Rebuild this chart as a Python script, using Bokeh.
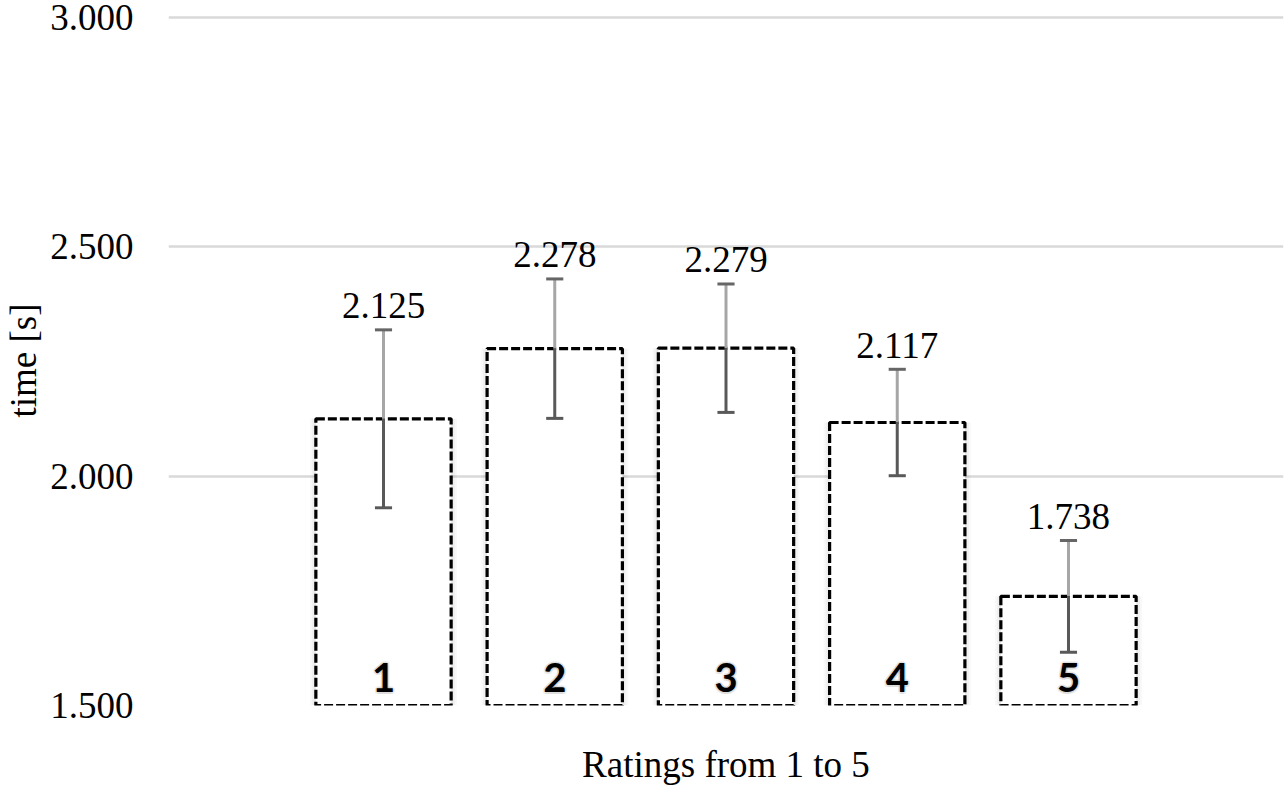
from bokeh.plotting import figure
from bokeh.models import ColumnDataSource, FixedTicker, PrintfTickFormatter, Range1d
from bokeh.embed import file_html
from bokeh.resources import INLINE
from bokeh.core.properties import value

# ---- data ----
categories = ["1", "2", "3", "4", "5"]
x_pos = [1, 2, 3, 4, 5]
mean_time = [2.125, 2.278, 2.279, 2.117, 1.738]
err_time = [0.194, 0.152, 0.140, 0.116, 0.122]
value_labels = ["2.125", "2.278", "2.279", "2.117", "1.738"]
y_ticks = [1.5, 2.0, 2.5, 3.0]
y_min, y_max = 1.5, 3.0
x_title = "Ratings from 1 to 5"
y_title = "time [s]"

SERIF = "Liberation Serif"
BAR_W = 0.79
CAP_HALF = 0.05

# layout (pixels)
W, H = 1288, 791
TOP_PAD = 2            # px between frame top and the 3.000 gridline
FRAME_TOP = 15
FRAME_BOTTOM = 705
FRAME_LEFT = 168
FRAME_RIGHT = 1283
GRID_SPAN_PX = FRAME_BOTTOM - FRAME_TOP - TOP_PAD
PX = (y_max - y_min) / GRID_SPAN_PX   # data units per pixel
X_LO, X_HI = -0.2555, 6.2555

tops = [m + e for m, e in zip(mean_time, err_time)]
bots = [m - e for m, e in zip(mean_time, err_time)]
bar_mid = [(m + y_min) / 2 for m in mean_time]
bar_h = [m - y_min for m in mean_time]

src = ColumnDataSource(dict(
    x=x_pos, mean=mean_time, top=tops, bot=bots, mid=bar_mid, h=bar_h,
    cap0=[x - CAP_HALF for x in x_pos], cap1=[x + CAP_HALF for x in x_pos],
    lab=value_labels, lab_y=[t + 24 * PX for t in tops],
    cat=categories, cat_y=[y_min + 28 * PX] * len(x_pos),
))

p = figure(width=W, height=H, output_backend="svg", toolbar_location=None,
           x_range=Range1d(X_LO, X_HI),
           y_range=Range1d(y_min, y_max + TOP_PAD * PX),
           min_border_left=FRAME_LEFT, min_border_right=W - FRAME_RIGHT,
           min_border_top=FRAME_TOP, min_border_bottom=H - FRAME_BOTTOM)
p.outline_line_color = None
p.background_fill_color = "white"
p.border_fill_color = "white"

# grid
p.xgrid.visible = False
p.ygrid.ticker = FixedTicker(ticks=y_ticks)
p.ygrid.grid_line_color = "#d9d9d9"
p.ygrid.grid_line_width = 2.5

# y axis
ya = p.yaxis[0]
ya.ticker = FixedTicker(ticks=y_ticks)
ya.formatter = PrintfTickFormatter(format="%.3f")
ya.axis_line_color = None
ya.major_tick_line_color = None
ya.minor_tick_line_color = None
ya.major_tick_out = 0
ya.minor_tick_out = 0
ya.major_label_text_font = SERIF
ya.major_label_text_font_size = "37px"
ya.major_label_text_color = "black"
ya.major_label_standoff = 35
ya.axis_label = y_title
ya.axis_label_text_font = SERIF
ya.axis_label_text_font_size = "37px"
ya.axis_label_text_font_style = "normal"
ya.axis_label_text_color = "black"
ya.axis_label_standoff = 3

# x axis (title only)
xa = p.xaxis[0]
xa.ticker = FixedTicker(ticks=[])
xa.axis_line_color = None
xa.major_tick_line_color = None
xa.minor_tick_line_color = None
xa.major_tick_out = 0
xa.minor_tick_out = 0
xa.major_label_standoff = 0
xa.axis_label = x_title
xa.axis_label_text_font = SERIF
xa.axis_label_text_font_size = "37px"
xa.axis_label_text_font_style = "normal"
xa.axis_label_text_color = "black"
xa.axis_label_standoff = 38

# soft shadow around bars
for extra, alpha in [(12, 0.025), (8, 0.03), (4, 0.04)]:
    p.rect(x="x", y="mid", width=BAR_W + extra / 171.25, height="h", source=src,
           fill_color="black", fill_alpha=alpha, line_color=None)

# bars
p.rect(x="x", y="mid", width=BAR_W, height="h", source=src,
       fill_color="white", line_color="black", line_width=3.2, line_dash="9 3")

# error bars
p.segment(x0="x", y0="mean", x1="x", y1="top", source=src,
          line_color="#a6a6a6", line_width=3)
p.segment(x0="x", y0="bot", x1="x", y1="mean", source=src,
          line_color="#595959", line_width=3)
p.segment(x0="cap0", y0="top", x1="cap1", y1="top", source=src,
          line_color="#666666", line_width=3)
p.segment(x0="cap0", y0="bot", x1="cap1", y1="bot", source=src,
          line_color="#595959", line_width=3)

# value labels
p.text(x="x", y="lab_y", text="lab", source=src,
       text_align="center", text_baseline="alphabetic",
       text_font=value(SERIF), text_font_size="37px", text_color="black")

# category numerals with soft glow
for dx, dy in [(-2, 0), (2, 0), (0, -2), (0, 2), (-1.5, -1.5), (1.5, 1.5), (-1.5, 1.5), (1.5, -1.5)]:
    p.text(x="x", y="cat_y", text="cat", source=src, x_offset=dx, y_offset=dy,
           text_align="center", text_baseline="alphabetic",
           text_font=value("Lato"), text_font_style="bold", text_font_size="40px",
           text_color="#9a9a9a", text_alpha=0.15)
p.text(x="x", y="cat_y", text="cat", source=src,
       text_align="center", text_baseline="alphabetic",
       text_font=value("Lato"), text_font_style="bold", text_font_size="40px",
       text_color="black")

open("out.html", "w").write(file_html(p, INLINE))
